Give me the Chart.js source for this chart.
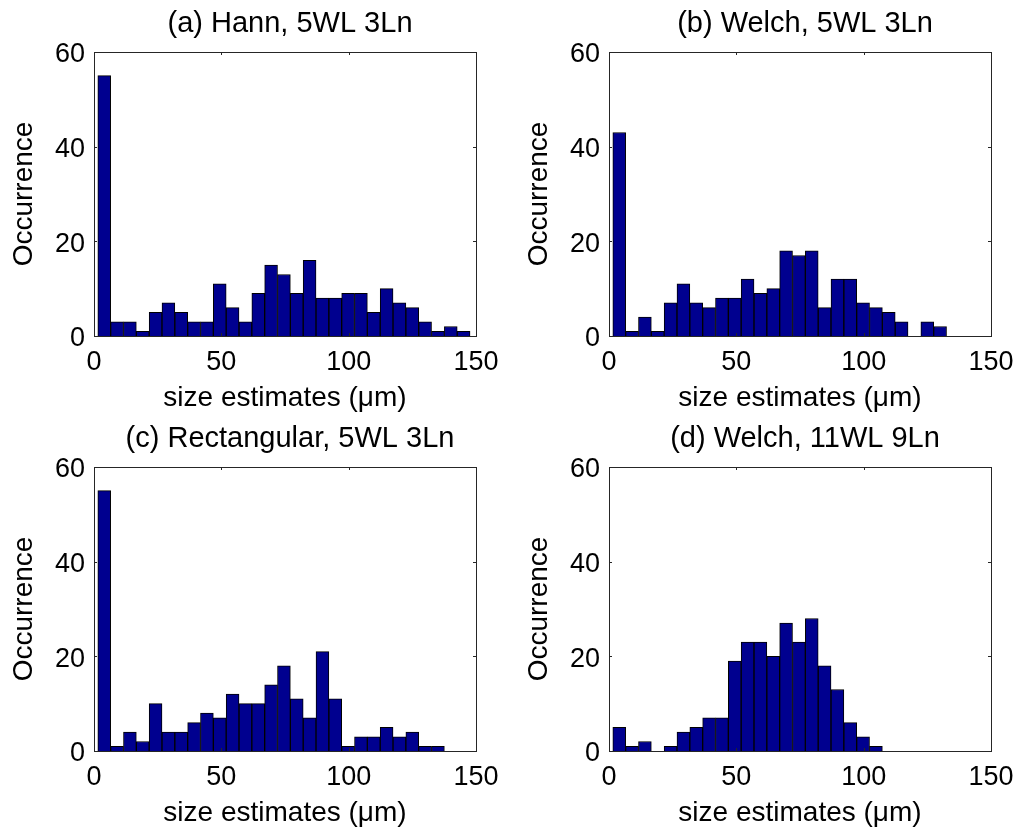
<!DOCTYPE html>
<html>
<head>
<meta charset="utf-8">
<script src="https://cdn.jsdelivr.net/npm/chart.js@4.4.1/dist/chart.umd.min.js"></script>
<style>
  body { margin: 0; background: #fff; }
  #wrap { position: relative; width: 1024px; height: 833px; background: #fff; }
  canvas { position: absolute; }
</style>
</head>
<body>
<div id="wrap">
  <canvas id="panelA" width="509" height="416" style="left:0px;top:0px"></canvas>
  <canvas id="panelB" width="509" height="416" style="left:515px;top:0px"></canvas>
  <canvas id="panelC" width="509" height="416" style="left:0px;top:415px"></canvas>
  <canvas id="panelD" width="509" height="416" style="left:515px;top:415px"></canvas>
</div>
<script>
// histogram bins (um), same for every panel
const binStart = 1.5;
const binWidth = 5.04;

// counts per bin
const hannCounts = [55, 3, 3, 1, 5, 7, 5, 3, 3, 11, 6, 3, 9, 15, 13, 9, 16, 8, 8, 9, 9, 5, 10, 7, 6, 3, 1, 2, 1];
const welchCounts = [43, 1, 4, 1, 7, 11, 7, 6, 8, 8, 12, 9, 10, 18, 17, 18, 6, 12, 12, 7, 6, 5, 3, 0, 3, 2];
const rectCounts = [55, 1, 4, 2, 10, 4, 4, 6, 8, 7, 12, 10, 10, 14, 18, 11, 7, 21, 11, 1, 3, 3, 5, 3, 4, 1, 1];
const welch11Counts = [5, 1, 2, 0, 1, 4, 5, 7, 7, 19, 23, 23, 20, 27, 23, 28, 18, 13, 6, 3, 1];

const panelTitles = ["(a) Hann, 5WL 3Ln", "(b) Welch, 5WL 3Ln", "(c) Rectangular, 5WL 3Ln", "(d) Welch, 11WL 9Ln"];
const xTicks = [0, 50, 100, 150];
const yTicks = [0, 20, 40, 60];

const fontFamily = '"Liberation Sans", Arial, Helvetica, sans-serif';

// box round the plot, small inward ticks and the panel title
const matlabFrame = {
  id: 'matlabFrame',
  afterDatasetsDraw(chart, args, opts) {
    const ctx = chart.ctx;
    const a = chart.chartArea;
    const xs = chart.scales.x, ys = chart.scales.y;
    ctx.save();
    ctx.strokeStyle = '#262626';
    ctx.lineWidth = 1;
    ctx.strokeRect(Math.round(a.left) + 0.5, Math.round(a.top) + 0.5,
      Math.round(a.right - a.left), Math.round(a.bottom - a.top));
    ctx.beginPath();
    xTicks.forEach(v => {
      const px = Math.round(xs.getPixelForValue(v)) + 0.5;
      ctx.moveTo(px, a.bottom); ctx.lineTo(px, a.bottom - 3);
      ctx.moveTo(px, a.top); ctx.lineTo(px, a.top + 3);
    });
    yTicks.forEach(v => {
      const py = Math.round(ys.getPixelForValue(v)) + 0.5;
      ctx.moveTo(a.left, py); ctx.lineTo(a.left + 3, py);
      ctx.moveTo(a.right, py); ctx.lineTo(a.right - 3, py);
    });
    ctx.stroke();
    ctx.fillStyle = '#000';
    ctx.font = '29px ' + fontFamily;
    ctx.textAlign = 'center';
    ctx.textBaseline = 'alphabetic';
    ctx.fillText(opts.text, (a.left + a.right) / 2 + 5, a.top - 20);
    ctx.restore();
  }
};

function makePanel(id, counts, title) {
  const points = counts.map((c, i) => ({ x: binStart + binWidth * (i + 0.5), y: c }));
  return new Chart(document.getElementById(id), {
    type: 'bar',
    data: {
      datasets: [{
        data: points,
        backgroundColor: '#00008f',
        borderColor: '#000',
        borderWidth: 1,
        barPercentage: 1,
        categoryPercentage: 1
      }]
    },
    options: {
      responsive: false,
      animation: false,
      layout: { padding: { top: 52, right: 33, left: 0, bottom: 0 } },
      plugins: {
        legend: { display: false },
        tooltip: { enabled: false },
        matlabFrame: { text: title }
      },
      scales: {
        x: {
          type: 'linear',
          min: 0,
          max: 150,
          offset: false,
          afterFit: s => { s.height = 80; },
          afterBuildTicks: s => { s.ticks = xTicks.map(v => ({ value: v })); },
          grid: { display: false, drawTicks: false },
          border: { display: false },
          ticks: { color: '#000', padding: 10, maxRotation: 0, font: { family: fontFamily, size: 27 } },
          title: {
            display: true,
            text: 'size estimates (\u03bcm)',
            color: '#000',
            padding: { top: 0, bottom: 1 },
            font: { family: fontFamily, size: 28 }
          }
        },
        y: {
          min: 0,
          max: 60,
          afterFit: s => { s.width = 94; },
          afterBuildTicks: s => { s.ticks = yTicks.map(v => ({ value: v })); },
          grid: { display: false, drawTicks: false },
          border: { display: false },
          ticks: { color: '#000', padding: 9, labelOffset: 3, font: { family: fontFamily, size: 27 } },
          title: {
            display: true,
            text: 'Occurrence',
            color: '#000',
            padding: { top: 7, bottom: 0 },
            font: { family: fontFamily, size: 28 }
          }
        }
      }
    },
    plugins: [matlabFrame]
  });
}

makePanel('panelA', hannCounts, panelTitles[0]);
makePanel('panelB', welchCounts, panelTitles[1]);
makePanel('panelC', rectCounts, panelTitles[2]);
makePanel('panelD', welch11Counts, panelTitles[3]);
</script>
</body>
</html>
